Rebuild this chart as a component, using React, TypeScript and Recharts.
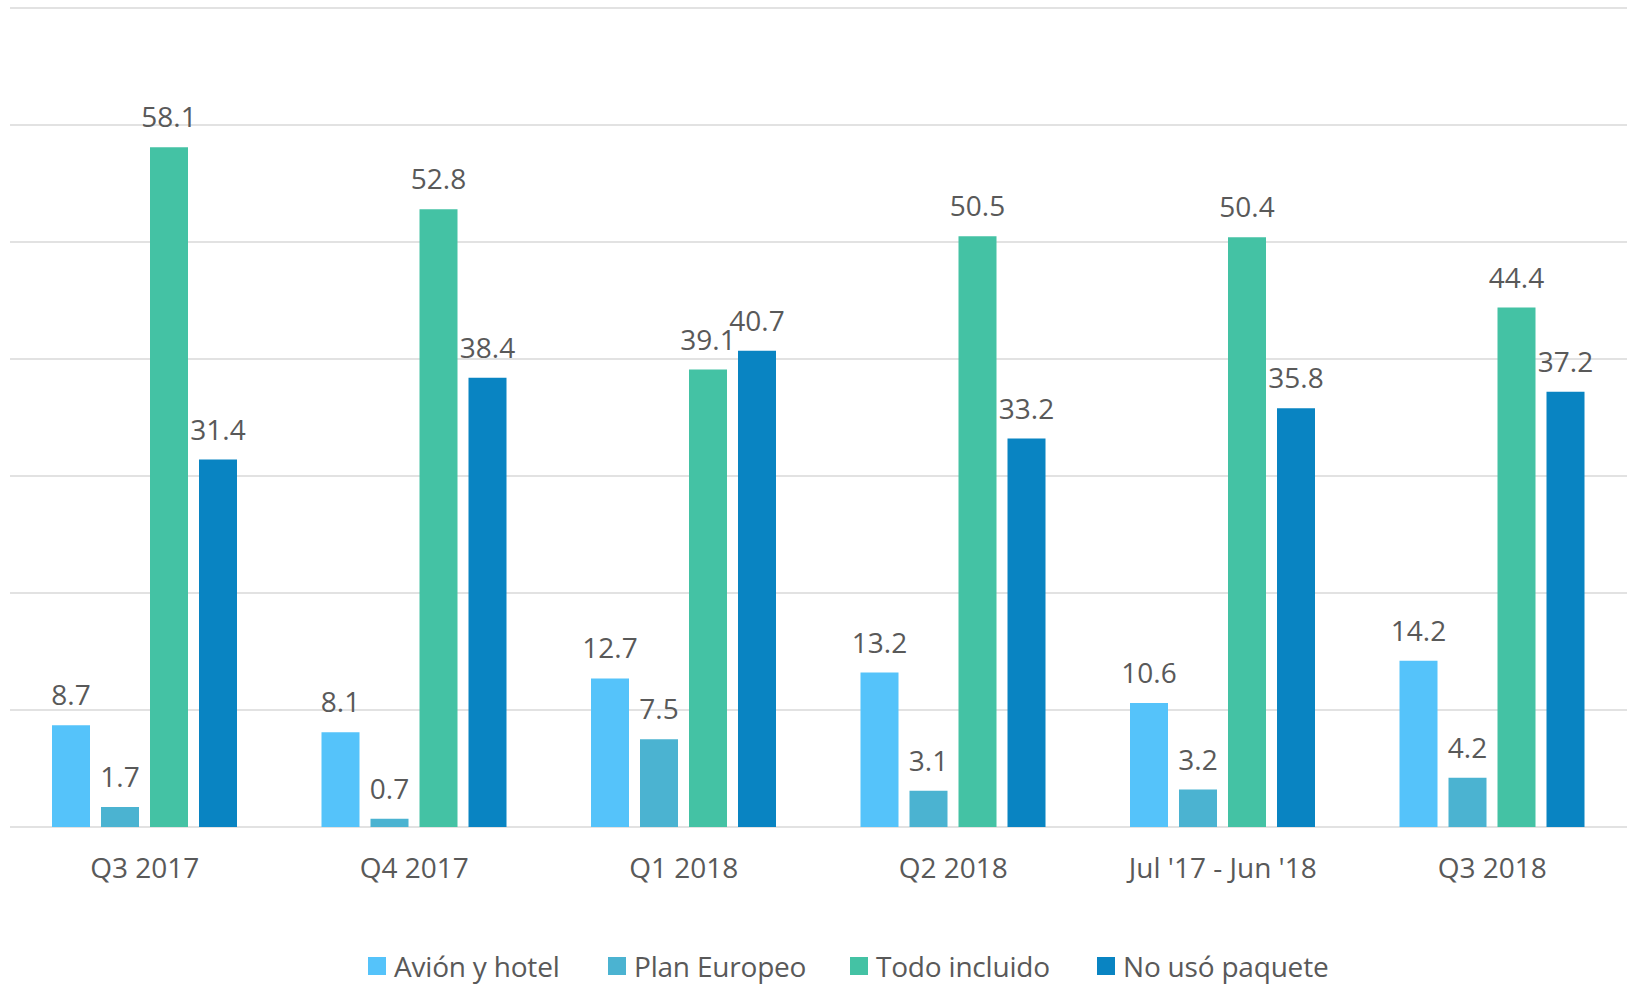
import React from 'react';
import { BarChart, Bar, XAxis, YAxis, CartesianGrid, Legend, LabelList } from 'recharts';

const categories = ['Q3 2017', 'Q4 2017', 'Q1 2018', 'Q2 2018', "Jul '17 - Jun '18", 'Q3 2018'];
const avionHotel = [8.7, 8.1, 12.7, 13.2, 10.6, 14.2];
const planEuropeo = [1.7, 0.7, 7.5, 3.1, 3.2, 4.2];
const todoIncluido = [58.1, 52.8, 39.1, 50.5, 50.4, 44.4];
const noUsoPaquete = [31.4, 38.4, 40.7, 33.2, 35.8, 37.2];
const yTicks = [0, 10, 20, 30, 40, 50, 60, 70];

const seriesDefs = [
  { key: 'avion', name: 'Avión y hotel', color: '#55C3FA', values: avionHotel },
  { key: 'plan', name: 'Plan Europeo', color: '#4BB3D1', values: planEuropeo },
  { key: 'todo', name: 'Todo incluido', color: '#44C2A4', values: todoIncluido },
  { key: 'no', name: 'No usó paquete', color: '#0984C2', values: noUsoPaquete },
];

const legendLefts = [368, 608, 850, 1097];

const data = categories.map((c, i) => {
  const row: Record<string, string | number> = { category: c };
  seriesDefs.forEach((s) => {
    row[s.key] = s.values[i];
  });
  return row;
});

const FONT = "'Open Sans', sans-serif";
const TEXT = '#595959';

const LegendContent = () => {
  return (
    <div style={{ height: 58, width: 1627, position: 'relative', fontFamily: FONT }}>
      {seriesDefs.map((s, i) => (
        <div
          key={s.key}
          style={{ position: 'absolute', left: legendLefts[i], top: 25, display: 'flex', alignItems: 'center', height: 28 }}
        >
          <div style={{ width: 18, height: 18, background: s.color, marginRight: 8 }} />
          <span style={{ fontSize: 28, lineHeight: '28px', color: TEXT, whiteSpace: 'nowrap', letterSpacing: -0.2 }}>{s.name}</span>
        </div>
      ))}
    </div>
  );
};

export default function App() {
  return (
    <div style={{ position: 'absolute', left: 0, top: 0, width: 1627, height: 985, background: '#fff', fontFamily: FONT }}>
      <BarChart
        width={1627}
        height={985}
        data={data}
        margin={{ top: 8, right: 0, left: 10, bottom: 0 }}
        barSize={38}
        barGap={11}
      >
        <CartesianGrid vertical={false} stroke="#D9D9D9" strokeWidth={1.5} />
        <YAxis hide domain={[0, 70]} ticks={yTicks} />
        <XAxis
          dataKey="category"
          height={100}
          axisLine={false}
          tickLine={false}
          tickSize={0}
          tickMargin={31}
          interval={0}
          tick={{ fill: TEXT, fontSize: 28, fontFamily: FONT }}
        />
        <Legend
          verticalAlign="bottom"
          height={58}
          content={<LegendContent />}
          wrapperStyle={{ left: 0, top: 927, width: 1627, height: 58 }}
        />
        {seriesDefs.map((s) => (
          <Bar key={s.key} dataKey={s.key} name={s.name} fill={s.color} isAnimationActive={false}>
            <LabelList
              dataKey={s.key}
              position="top"
              offset={20}
              fill={TEXT}
              fontSize={28}
              fontFamily={FONT}
              formatter={(v: any) => Number(v).toFixed(1)}
            />
          </Bar>
        ))}
      </BarChart>
    </div>
  );
}
